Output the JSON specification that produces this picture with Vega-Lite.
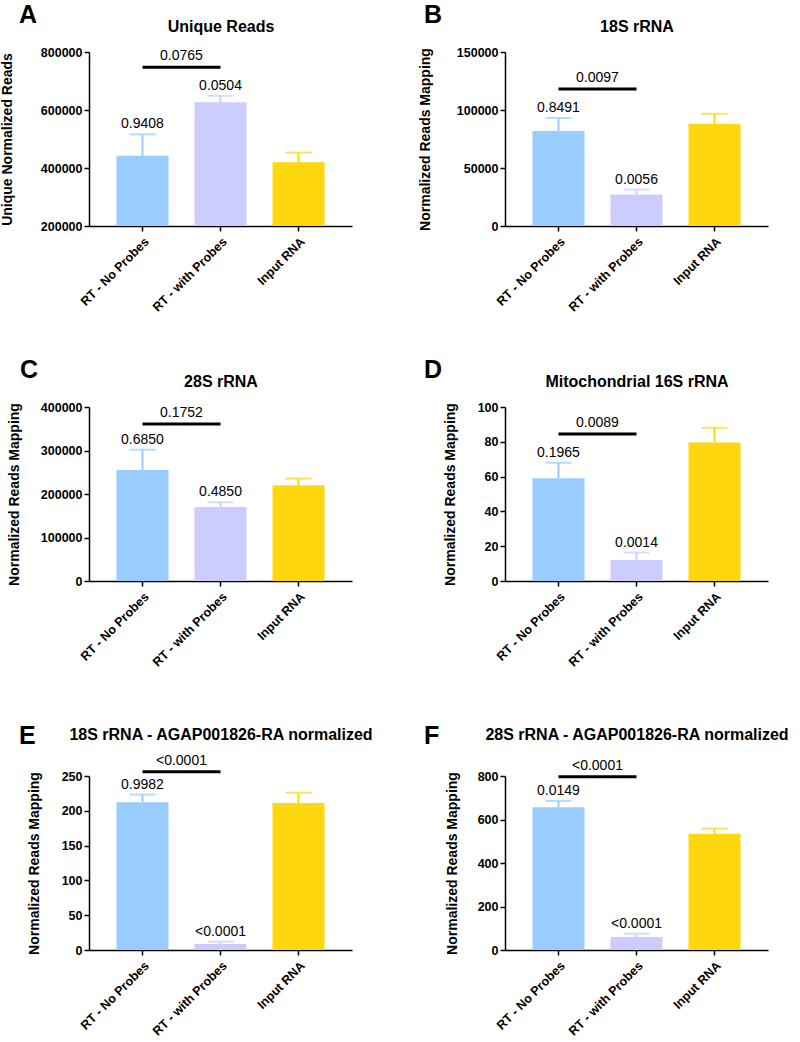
{
  "$schema": "https://vega.github.io/schema/vega-lite/v6.json",
  "padding": {"left": 0, "top": 3, "right": 0, "bottom": 0},
  "columns": 2,
  "spacing": {"row": 44, "column": 45},
  "config": {
    "font": "Liberation Sans",
    "view": {"stroke": null},
    "axis": {"domainColor": "black", "domainWidth": 1.5, "tickColor": "black", "tickWidth": 1.5, "tickSize": 5, "tickCount": 10, "labelFont": "Liberation Sans", "labelFontWeight": "bold", "labelFontSize": 12.5, "labelColor": "black", "labelPadding": 2, "labelOverlap": false, "titleFont": "Liberation Sans", "titleFontSize": 14, "titleFontWeight": "bold", "titleColor": "black", "grid": false},
    "title": {"font": "Liberation Sans", "fontSize": 25, "fontWeight": "bold", "color": "black", "anchor": "start", "frame": "group"},
    "text": {"font": "Liberation Sans", "fontSize": 14, "color": "black"}
  },
  "concat": [
    {
      "title": {"text": "A", "offset": -10, "dx": -70},
      "width": 263, "height": 174,
      "data": {"values": [
        {"group": "RT - No Probes", "mean": 442000, "hi": 516000, "p": "0.9408"},
        {"group": "RT - with Probes", "mean": 626500, "hi": 649000, "p": "0.0504"},
        {"group": "Input RNA", "mean": 420000, "hi": 453000, "p": ""}
      ]},
      "resolve": {"axis": {"x": "independent"}},
      "layer": [
        {"mark": {"type": "bar"}, "encoding": {
          "x": {"field": "group", "type": "nominal", "sort": null, "scale": {"domain": ["RT - No Probes", "RT - with Probes", "Input RNA"], "paddingInner": 0.333, "paddingOuter": 0.352}, "axis": {"orient": "bottom", "title": null, "labelAngle": -45, "labelPadding": 4}},
          "y": {"field": "mean", "type": "quantitative", "scale": {"domain": [200000, 800000], "nice": false, "zero": false}, "axis": {"title": "Unique Normalized Reads", "values": [200000, 400000, 600000, 800000], "tickCount": 10, "format": "d", "titlePadding": 26}},
          "y2": {"datum": 200000},
          "color": {"field": "group", "type": "nominal", "scale": {"domain": ["RT - No Probes", "RT - with Probes", "Input RNA"], "range": ["#99CCFF", "#CCCCFF", "#FFD70F"]}, "legend": null}}},
        {"mark": {"type": "rule", "strokeWidth": 2}, "encoding": {"x": {"field": "group", "type": "nominal", "axis": null}, "y": {"field": "mean", "type": "quantitative"}, "y2": {"field": "hi"}, "color": {"field": "group", "type": "nominal", "legend": null}}},
        {"mark": {"type": "tick", "thickness": 2, "size": 26}, "encoding": {"x": {"field": "group", "type": "nominal", "axis": null}, "y": {"field": "hi", "type": "quantitative"}, "color": {"field": "group", "type": "nominal", "legend": null}}},
        {"mark": {"type": "text", "dy": -6, "baseline": "alphabetic"}, "encoding": {"x": {"field": "group", "type": "nominal", "axis": null}, "y": {"field": "hi", "type": "quantitative"}, "text": {"field": "p"}}},
        {"data": {"values": [{"g1": "RT - No Probes", "g2": "RT - with Probes", "y": 747000, "p": "0.0765"}]},
         "mark": {"type": "rule", "strokeWidth": 3, "color": "black"}, "encoding": {
          "x": {"field": "g1", "type": "nominal", "axis": {"orient": "top", "title": "Unique Reads", "labels": false, "ticks": false, "domain": false, "titleFontSize": 16, "titlePadding": 18}},
          "x2": {"field": "g2"}, "y": {"field": "y", "type": "quantitative"}}},
        {"data": {"values": [{"g1": "RT - No Probes", "g2": "RT - with Probes", "y": 747000, "p": "0.0765"}]},
         "mark": {"type": "text", "dx": 39, "dy": -7, "baseline": "alphabetic"}, "encoding": {
          "x": {"field": "g1", "type": "nominal", "axis": null}, "y": {"field": "y", "type": "quantitative"}, "text": {"field": "p"}}}
      ]
    },
    {
      "title": {"text": "B", "offset": -10, "dx": -81},
      "width": 263, "height": 174,
      "data": {"values": [
        {"group": "RT - No Probes", "mean": 81800, "hi": 93000, "p": "0.8491"},
        {"group": "RT - with Probes", "mean": 27100, "hi": 31400, "p": "0.0056"},
        {"group": "Input RNA", "mean": 88100, "hi": 96700, "p": ""}
      ]},
      "resolve": {"axis": {"x": "independent"}},
      "layer": [
        {"mark": {"type": "bar"}, "encoding": {
          "x": {"field": "group", "type": "nominal", "sort": null, "scale": {"domain": ["RT - No Probes", "RT - with Probes", "Input RNA"], "paddingInner": 0.333, "paddingOuter": 0.352}, "axis": {"orient": "bottom", "title": null, "labelAngle": -45, "labelPadding": 4}},
          "y": {"field": "mean", "type": "quantitative", "scale": {"domain": [0, 150000], "nice": false}, "axis": {"title": "Normalized Reads Mapping", "values": [0, 50000, 100000, 150000], "tickCount": 10, "format": "d", "titlePadding": 24}},
          "y2": {"datum": 0},
          "color": {"field": "group", "type": "nominal", "scale": {"domain": ["RT - No Probes", "RT - with Probes", "Input RNA"], "range": ["#99CCFF", "#CCCCFF", "#FFD70F"]}, "legend": null}}},
        {"mark": {"type": "rule", "strokeWidth": 2}, "encoding": {"x": {"field": "group", "type": "nominal", "axis": null}, "y": {"field": "mean", "type": "quantitative"}, "y2": {"field": "hi"}, "color": {"field": "group", "type": "nominal", "legend": null}}},
        {"mark": {"type": "tick", "thickness": 2, "size": 26}, "encoding": {"x": {"field": "group", "type": "nominal", "axis": null}, "y": {"field": "hi", "type": "quantitative"}, "color": {"field": "group", "type": "nominal", "legend": null}}},
        {"mark": {"type": "text", "dy": -6, "baseline": "alphabetic"}, "encoding": {"x": {"field": "group", "type": "nominal", "axis": null}, "y": {"field": "hi", "type": "quantitative"}, "text": {"field": "p"}}},
        {"data": {"values": [{"g1": "RT - No Probes", "g2": "RT - with Probes", "y": 118000, "p": "0.0097"}]},
         "mark": {"type": "rule", "strokeWidth": 3, "color": "black"}, "encoding": {
          "x": {"field": "g1", "type": "nominal", "axis": {"orient": "top", "title": "18S rRNA", "labels": false, "ticks": false, "domain": false, "titleFontSize": 16, "titlePadding": 18}},
          "x2": {"field": "g2"}, "y": {"field": "y", "type": "quantitative"}}},
        {"data": {"values": [{"g1": "RT - No Probes", "g2": "RT - with Probes", "y": 118000, "p": "0.0097"}]},
         "mark": {"type": "text", "dx": 39, "dy": -7, "baseline": "alphabetic"}, "encoding": {
          "x": {"field": "g1", "type": "nominal", "axis": null}, "y": {"field": "y", "type": "quantitative"}, "text": {"field": "p"}}}
      ]
    },
    {
      "title": {"text": "C", "offset": -10, "dx": -69},
      "width": 263, "height": 174,
      "data": {"values": [
        {"group": "RT - No Probes", "mean": 255000, "hi": 301700, "p": "0.6850"},
        {"group": "RT - with Probes", "mean": 170400, "hi": 181200, "p": "0.4850"},
        {"group": "Input RNA", "mean": 220400, "hi": 235600, "p": ""}
      ]},
      "resolve": {"axis": {"x": "independent"}},
      "layer": [
        {"mark": {"type": "bar"}, "encoding": {
          "x": {"field": "group", "type": "nominal", "sort": null, "scale": {"domain": ["RT - No Probes", "RT - with Probes", "Input RNA"], "paddingInner": 0.333, "paddingOuter": 0.352}, "axis": {"orient": "bottom", "title": null, "labelAngle": -45, "labelPadding": 4}},
          "y": {"field": "mean", "type": "quantitative", "scale": {"domain": [0, 400000], "nice": false}, "axis": {"title": "Normalized Reads Mapping", "values": [0, 100000, 200000, 300000, 400000], "tickCount": 10, "format": "d", "titlePadding": 19}},
          "y2": {"datum": 0},
          "color": {"field": "group", "type": "nominal", "scale": {"domain": ["RT - No Probes", "RT - with Probes", "Input RNA"], "range": ["#99CCFF", "#CCCCFF", "#FFD70F"]}, "legend": null}}},
        {"mark": {"type": "rule", "strokeWidth": 2}, "encoding": {"x": {"field": "group", "type": "nominal", "axis": null}, "y": {"field": "mean", "type": "quantitative"}, "y2": {"field": "hi"}, "color": {"field": "group", "type": "nominal", "legend": null}}},
        {"mark": {"type": "tick", "thickness": 2, "size": 26}, "encoding": {"x": {"field": "group", "type": "nominal", "axis": null}, "y": {"field": "hi", "type": "quantitative"}, "color": {"field": "group", "type": "nominal", "legend": null}}},
        {"mark": {"type": "text", "dy": -6, "baseline": "alphabetic"}, "encoding": {"x": {"field": "group", "type": "nominal", "axis": null}, "y": {"field": "hi", "type": "quantitative"}, "text": {"field": "p"}}},
        {"data": {"values": [{"g1": "RT - No Probes", "g2": "RT - with Probes", "y": 360800, "p": "0.1752"}]},
         "mark": {"type": "rule", "strokeWidth": 3, "color": "black"}, "encoding": {
          "x": {"field": "g1", "type": "nominal", "axis": {"orient": "top", "title": "28S rRNA", "labels": false, "ticks": false, "domain": false, "titleFontSize": 16, "titlePadding": 18}},
          "x2": {"field": "g2"}, "y": {"field": "y", "type": "quantitative"}}},
        {"data": {"values": [{"g1": "RT - No Probes", "g2": "RT - with Probes", "y": 360800, "p": "0.1752"}]},
         "mark": {"type": "text", "dx": 39, "dy": -7, "baseline": "alphabetic"}, "encoding": {
          "x": {"field": "g1", "type": "nominal", "axis": null}, "y": {"field": "y", "type": "quantitative"}, "text": {"field": "p"}}}
      ]
    },
    {
      "title": {"text": "D", "offset": -10, "dx": -81},
      "width": 263, "height": 174,
      "data": {"values": [
        {"group": "RT - No Probes", "mean": 59.1, "hi": 67.9, "p": "0.1965"},
        {"group": "RT - with Probes", "mean": 12.1, "hi": 16.3, "p": "0.0014"},
        {"group": "Input RNA", "mean": 79.6, "hi": 88.1, "p": ""}
      ]},
      "resolve": {"axis": {"x": "independent"}},
      "layer": [
        {"mark": {"type": "bar"}, "encoding": {
          "x": {"field": "group", "type": "nominal", "sort": null, "scale": {"domain": ["RT - No Probes", "RT - with Probes", "Input RNA"], "paddingInner": 0.333, "paddingOuter": 0.352}, "axis": {"orient": "bottom", "title": null, "labelAngle": -45, "labelPadding": 4}},
          "y": {"field": "mean", "type": "quantitative", "scale": {"domain": [0, 100], "nice": false}, "axis": {"title": "Normalized Reads Mapping", "values": [0, 20, 40, 60, 80, 100], "tickCount": 10, "format": "d", "titlePadding": 20}},
          "y2": {"datum": 0},
          "color": {"field": "group", "type": "nominal", "scale": {"domain": ["RT - No Probes", "RT - with Probes", "Input RNA"], "range": ["#99CCFF", "#CCCCFF", "#FFD70F"]}, "legend": null}}},
        {"mark": {"type": "rule", "strokeWidth": 2}, "encoding": {"x": {"field": "group", "type": "nominal", "axis": null}, "y": {"field": "mean", "type": "quantitative"}, "y2": {"field": "hi"}, "color": {"field": "group", "type": "nominal", "legend": null}}},
        {"mark": {"type": "tick", "thickness": 2, "size": 26}, "encoding": {"x": {"field": "group", "type": "nominal", "axis": null}, "y": {"field": "hi", "type": "quantitative"}, "color": {"field": "group", "type": "nominal", "legend": null}}},
        {"mark": {"type": "text", "dy": -6, "baseline": "alphabetic"}, "encoding": {"x": {"field": "group", "type": "nominal", "axis": null}, "y": {"field": "hi", "type": "quantitative"}, "text": {"field": "p"}}},
        {"data": {"values": [{"g1": "RT - No Probes", "g2": "RT - with Probes", "y": 84.5, "p": "0.0089"}]},
         "mark": {"type": "rule", "strokeWidth": 3, "color": "black"}, "encoding": {
          "x": {"field": "g1", "type": "nominal", "axis": {"orient": "top", "title": "Mitochondrial 16S rRNA", "labels": false, "ticks": false, "domain": false, "titleFontSize": 16, "titlePadding": 18}},
          "x2": {"field": "g2"}, "y": {"field": "y", "type": "quantitative"}}},
        {"data": {"values": [{"g1": "RT - No Probes", "g2": "RT - with Probes", "y": 84.5, "p": "0.0089"}]},
         "mark": {"type": "text", "dx": 39, "dy": -7, "baseline": "alphabetic"}, "encoding": {
          "x": {"field": "g1", "type": "nominal", "axis": null}, "y": {"field": "y", "type": "quantitative"}, "text": {"field": "p"}}}
      ]
    },
    {
      "title": {"text": "E", "offset": -36, "dx": -70},
      "width": 263, "height": 174,
      "data": {"values": [
        {"group": "RT - No Probes", "mean": 212.2, "hi": 223.3, "p": "0.9982"},
        {"group": "RT - with Probes", "mean": 8.6, "hi": 12, "p": "<0.0001"},
        {"group": "Input RNA", "mean": 211.2, "hi": 226, "p": ""}
      ]},
      "resolve": {"axis": {"x": "independent"}},
      "layer": [
        {"mark": {"type": "bar"}, "encoding": {
          "x": {"field": "group", "type": "nominal", "sort": null, "scale": {"domain": ["RT - No Probes", "RT - with Probes", "Input RNA"], "paddingInner": 0.333, "paddingOuter": 0.352}, "axis": {"orient": "bottom", "title": null, "labelAngle": -45, "labelPadding": 4}},
          "y": {"field": "mean", "type": "quantitative", "scale": {"domain": [0, 250], "nice": false}, "axis": {"title": "Normalized Reads Mapping", "values": [0, 50, 100, 150, 200, 250], "tickCount": 10, "format": "d", "titlePadding": 20}},
          "y2": {"datum": 0},
          "color": {"field": "group", "type": "nominal", "scale": {"domain": ["RT - No Probes", "RT - with Probes", "Input RNA"], "range": ["#99CCFF", "#CCCCFF", "#FFD70F"]}, "legend": null}}},
        {"mark": {"type": "rule", "strokeWidth": 2}, "encoding": {"x": {"field": "group", "type": "nominal", "axis": null}, "y": {"field": "mean", "type": "quantitative"}, "y2": {"field": "hi"}, "color": {"field": "group", "type": "nominal", "legend": null}}},
        {"mark": {"type": "tick", "thickness": 2, "size": 26}, "encoding": {"x": {"field": "group", "type": "nominal", "axis": null}, "y": {"field": "hi", "type": "quantitative"}, "color": {"field": "group", "type": "nominal", "legend": null}}},
        {"mark": {"type": "text", "dy": -6, "baseline": "alphabetic"}, "encoding": {"x": {"field": "group", "type": "nominal", "axis": null}, "y": {"field": "hi", "type": "quantitative"}, "text": {"field": "p"}}},
        {"data": {"values": [{"g1": "RT - No Probes", "g2": "RT - with Probes", "y": 256, "p": "<0.0001"}]},
         "mark": {"type": "rule", "strokeWidth": 3, "color": "black"}, "encoding": {
          "x": {"field": "g1", "type": "nominal", "axis": {"orient": "top", "title": ["", "18S rRNA - AGAP001826-RA normalized"], "titleLineHeight": 13, "labels": false, "ticks": false, "domain": false, "titleFontSize": 16, "titlePadding": 34}},
          "x2": {"field": "g2"}, "y": {"field": "y", "type": "quantitative"}}},
        {"data": {"values": [{"g1": "RT - No Probes", "g2": "RT - with Probes", "y": 256, "p": "<0.0001"}]},
         "mark": {"type": "text", "dx": 39, "dy": -7, "baseline": "alphabetic"}, "encoding": {
          "x": {"field": "g1", "type": "nominal", "axis": null}, "y": {"field": "y", "type": "quantitative"}, "text": {"field": "p"}}}
      ]
    },
    {
      "title": {"text": "F", "offset": -36, "dx": -81},
      "width": 263, "height": 174,
      "data": {"values": [
        {"group": "RT - No Probes", "mean": 656.7, "hi": 685.5, "p": "0.0149"},
        {"group": "RT - with Probes", "mean": 59.5, "hi": 75, "p": "<0.0001"},
        {"group": "Input RNA", "mean": 534.4, "hi": 558.7, "p": ""}
      ]},
      "resolve": {"axis": {"x": "independent"}},
      "layer": [
        {"mark": {"type": "bar"}, "encoding": {
          "x": {"field": "group", "type": "nominal", "sort": null, "scale": {"domain": ["RT - No Probes", "RT - with Probes", "Input RNA"], "paddingInner": 0.333, "paddingOuter": 0.352}, "axis": {"orient": "bottom", "title": null, "labelAngle": -45, "labelPadding": 4}},
          "y": {"field": "mean", "type": "quantitative", "scale": {"domain": [0, 800], "nice": false}, "axis": {"title": "Normalized Reads Mapping", "values": [0, 200, 400, 600, 800], "tickCount": 10, "format": "d", "titlePadding": 18}},
          "y2": {"datum": 0},
          "color": {"field": "group", "type": "nominal", "scale": {"domain": ["RT - No Probes", "RT - with Probes", "Input RNA"], "range": ["#99CCFF", "#CCCCFF", "#FFD70F"]}, "legend": null}}},
        {"mark": {"type": "rule", "strokeWidth": 2}, "encoding": {"x": {"field": "group", "type": "nominal", "axis": null}, "y": {"field": "mean", "type": "quantitative"}, "y2": {"field": "hi"}, "color": {"field": "group", "type": "nominal", "legend": null}}},
        {"mark": {"type": "tick", "thickness": 2, "size": 26}, "encoding": {"x": {"field": "group", "type": "nominal", "axis": null}, "y": {"field": "hi", "type": "quantitative"}, "color": {"field": "group", "type": "nominal", "legend": null}}},
        {"mark": {"type": "text", "dy": -6, "baseline": "alphabetic"}, "encoding": {"x": {"field": "group", "type": "nominal", "axis": null}, "y": {"field": "hi", "type": "quantitative"}, "text": {"field": "p"}}},
        {"data": {"values": [{"g1": "RT - No Probes", "g2": "RT - with Probes", "y": 797, "p": "<0.0001"}]},
         "mark": {"type": "rule", "strokeWidth": 3, "color": "black"}, "encoding": {
          "x": {"field": "g1", "type": "nominal", "axis": {"orient": "top", "title": ["", "28S rRNA - AGAP001826-RA normalized"], "titleLineHeight": 13, "labels": false, "ticks": false, "domain": false, "titleFontSize": 16, "titlePadding": 34}},
          "x2": {"field": "g2"}, "y": {"field": "y", "type": "quantitative"}}},
        {"data": {"values": [{"g1": "RT - No Probes", "g2": "RT - with Probes", "y": 797, "p": "<0.0001"}]},
         "mark": {"type": "text", "dx": 39, "dy": -7, "baseline": "alphabetic"}, "encoding": {
          "x": {"field": "g1", "type": "nominal", "axis": null}, "y": {"field": "y", "type": "quantitative"}, "text": {"field": "p"}}}
      ]
    }
  ]
}
